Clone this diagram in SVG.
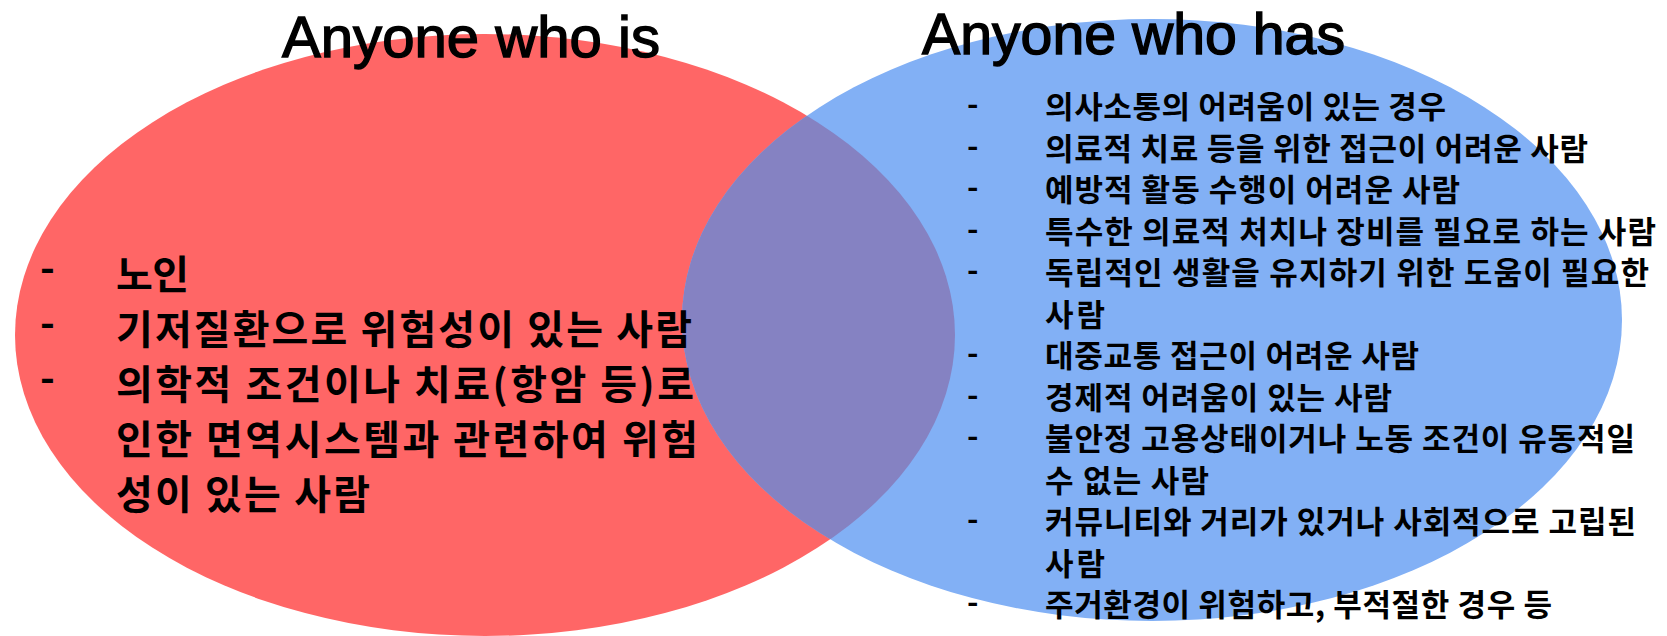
<svg xmlns="http://www.w3.org/2000/svg" width="1667" height="636" viewBox="0 0 1667 636">
<style>
.title{font-family:"Liberation Sans","Noto Sans",sans-serif;font-size:57px;font-weight:400;fill:#000;stroke:#000;stroke-width:1.4px}
.lt{font-family:"Noto Sans CJK KR","Noto Sans",sans-serif;font-size:40px;font-weight:700;fill:#000}
.rt{font-family:"Noto Sans CJK KR","Noto Sans",sans-serif;font-size:31px;font-weight:700;fill:#000}
</style>
<defs>
<clipPath id="blueClip"><ellipse cx="1152" cy="320" rx="470" ry="301"/></clipPath>
</defs>
<rect width="1667" height="636" fill="#fff"/>
<g id="set-left-shape"><ellipse cx="485" cy="335" rx="470" ry="301" fill="#FF6666"/></g>
<g id="set-right-shape"><ellipse cx="1152" cy="320" rx="470" ry="301" fill="#82B0F5"/></g>
<g id="overlap"><ellipse cx="485" cy="335" rx="470" ry="301" fill="#8582C2" clip-path="url(#blueClip)"/></g>
<g id="connectors"></g>
<g id="set-left">
<text class="title" x="282" y="57" textLength="378" lengthAdjust="spacingAndGlyphs">Anyone who is</text>
<text class="lt" x="40" y="282">-</text>
<text class="lt" x="40" y="337">-</text>
<text class="lt" x="40" y="392">-</text>
<text class="lt" x="116" y="289" textLength="73">노인</text>
<text class="lt" x="116" y="344" textLength="576">기저질환으로 위험성이 있는 사람</text>
<text class="lt" x="116" y="399" textLength="578">의학적 조건이나 치료(항암 등)로</text>
<text class="lt" x="116" y="454" textLength="582">인한 면역시스템과 관련하여 위험</text>
<text class="lt" x="116" y="509" textLength="254">성이 있는 사람</text>
</g>
<g id="set-right">
<text class="title" x="922" y="54" textLength="423" lengthAdjust="spacingAndGlyphs">Anyone who has</text>
<text class="rt" x="967" y="115">-</text>
<text class="rt" x="967" y="156.5">-</text>
<text class="rt" x="967" y="198">-</text>
<text class="rt" x="967" y="239.5">-</text>
<text class="rt" x="967" y="281">-</text>
<text class="rt" x="967" y="364">-</text>
<text class="rt" x="967" y="405.5">-</text>
<text class="rt" x="967" y="447">-</text>
<text class="rt" x="967" y="530">-</text>
<text class="rt" x="967" y="613">-</text>
<text class="rt" x="1045" y="118" textLength="401">의사소통의 어려움이 있는 경우</text>
<text class="rt" x="1045" y="159.5" textLength="543">의료적 치료 등을 위한 접근이 어려운 사람</text>
<text class="rt" x="1045" y="201" textLength="415">예방적 활동 수행이 어려운 사람</text>
<text class="rt" x="1045" y="242.5" textLength="611">특수한 의료적 처치나 장비를 필요로 하는 사람</text>
<text class="rt" x="1045" y="284" textLength="604">독립적인 생활을 유지하기 위한 도움이 필요한</text>
<text class="rt" x="1045" y="325.5" textLength="60">사람</text>
<text class="rt" x="1045" y="367" textLength="374">대중교통 접근이 어려운 사람</text>
<text class="rt" x="1045" y="408.5" textLength="347">경제적 어려움이 있는 사람</text>
<text class="rt" x="1045" y="450" textLength="590">불안정 고용상태이거나 노동 조건이 유동적일</text>
<text class="rt" x="1045" y="491.5" textLength="164">수 없는 사람</text>
<text class="rt" x="1045" y="533" textLength="591">커뮤니티와 거리가 있거나 사회적으로 고립된</text>
<text class="rt" x="1045" y="574.5" textLength="60">사람</text>
<text class="rt" x="1045" y="616" textLength="507">주거환경이 위험하고, 부적절한 경우 등</text>
</g>
</svg>
